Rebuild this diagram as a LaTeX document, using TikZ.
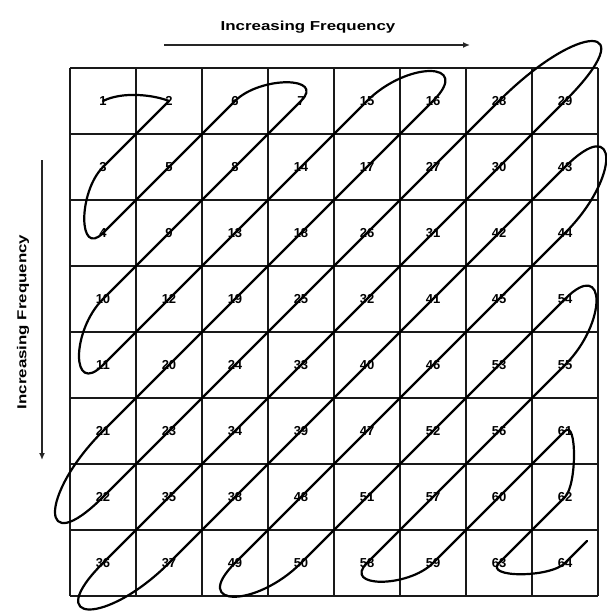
\documentclass[tikz,border=0pt]{standalone}
\usepackage{fontspec}
\newfontfamily\labfont{Liberation Sans}[FakeStretch=1.3]
\newfontfamily\numfont{Liberation Sans}
\usetikzlibrary{arrows.meta}
\begin{document}
\begin{tikzpicture}[x=1pt,y=-1pt,
  gridline/.style={line width=2.8pt,black!90},
  num/.style={inner sep=0pt,font=\numfont\bfseries\fontsize{13}{13}\selectfont},
  zig/.style={line width=2.2pt,black,line join=round,line cap=round},
  axis/.style={line width=1.6pt,black!85,-{Latex[length=7pt,width=6pt]}},
  lab/.style={font=\labfont\bfseries\fontsize{13}{13}\selectfont}]
\useasboundingbox (0,0) rectangle (606,614);
% grid
\foreach \i in {0,...,8}{
  \draw[gridline] ({70+66*\i},68) -- ({70+66*\i},596);
  \draw[gridline] (70,{68+66*\i}) -- (598,{68+66*\i});
}
% numbers
\foreach \row [count=\r from 0] in {{1,2,6,7,15,16,28,29},{3,5,8,14,17,27,30,43},{4,9,13,18,26,31,42,44},{10,12,19,25,32,41,45,54},{11,20,24,33,40,46,53,55},{21,23,34,39,47,52,56,61},{22,35,38,48,51,57,60,62},{36,37,49,50,58,59,63,64}}{
  \foreach \v [count=\c from 0] in \row {
    \node[num] (n\v) at ({103+66*\c},{101+66*\r}) {\v};
  }
}
% zigzag path
\path (n64.center) ++(22,-22) coordinate (tail);
\draw[zig] (n1.center) .. controls +(20,-10) and +(-15,-6) .. (n2.center) -- (n3.center)
 .. controls +(-25,25) and +(-25,25) .. (n4.center) -- (n6.center)
 .. controls +(25,-25) and +(25,-25) .. (n7.center) -- (n10.center)
 .. controls +(-32,32) and +(-32,32) .. (n11.center) -- (n15.center)
 .. controls +(40,-40) and +(40,-40) .. (n16.center) -- (n21.center)
 .. controls +(-64,64) and +(-64,64) .. (n22.center) -- (n28.center)
 .. controls +(80,-80) and +(80,-80) .. (n29.center) -- (n36.center)
 .. controls +(-62,62) and +(-62,62) .. (n37.center) -- (n43.center)
 .. controls +(55,-55) and +(55,-55) .. (n44.center) -- (n49.center)
 .. controls +(-45,45) and +(-45,45) .. (n50.center) -- (n54.center)
 .. controls +(42,-42) and +(42,-42) .. (n55.center) -- (n58.center)
 .. controls +(-25,25) and +(-25,25) .. (n59.center) -- (n61.center)
 .. controls +(12,-12) and +(12,-12) .. (n62.center) -- (n63.center)
 .. controls +(-15,15) and +(-15,15) .. (n64.center) -- (tail);
% axes
\coordinate (ha) at (164,45);
\coordinate (hb) at (470,45);
\coordinate (va) at (42,160);
\coordinate (vb) at (42,460);
\draw[axis] (ha) -- (hb);
\draw[axis] (va) -- (vb);
\node[lab] (htext) at (308,27) {Increasing Frequency};
\node[lab,rotate=90] (vtext) at (23,322) {Increasing Frequency};
\end{tikzpicture}
\end{document}
